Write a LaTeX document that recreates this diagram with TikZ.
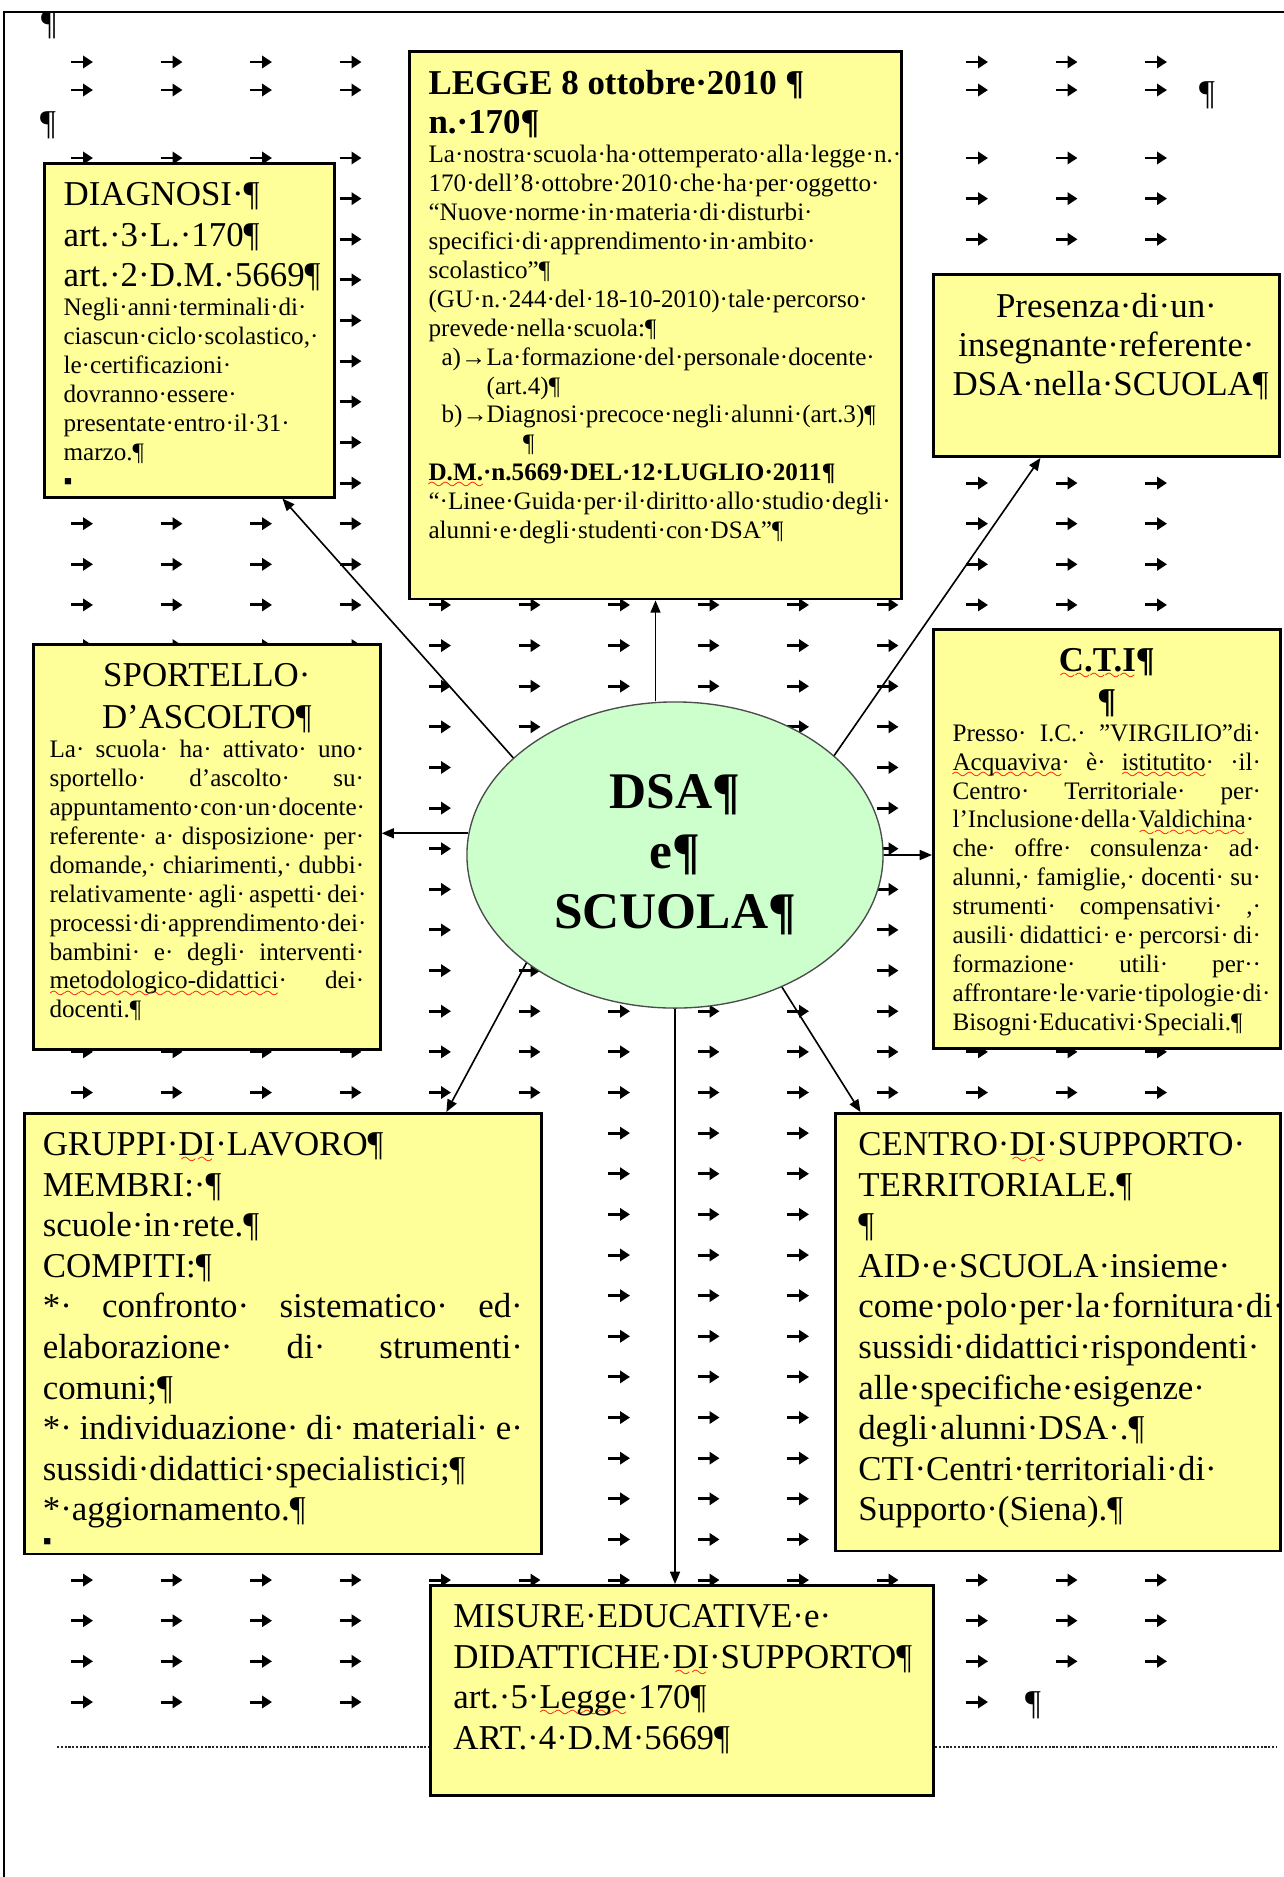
\documentclass[tikz,border=0pt]{standalone}
\usepackage{fontspec}
\setmainfont{Liberation Serif}
\usetikzlibrary{shapes.geometric, arrows.meta}

\definecolor{paneyellow}{HTML}{FFFF99}
\definecolor{dsagreen}{HTML}{CCFFCC}

\font\spellwave=lasy6
\newcommand\bigtxt{\fontsize{12.9pt}{15pt}\selectfont}
\newcommand\smalltxt{\fontsize{9.3pt}{10.7pt}\selectfont}
\newcommand\jline[1]{\makebox[\linewidth][s]{#1}}
\newcommand\spellerr[1]{\leavevmode\setbox0=\hbox{#1}\rlap{\color{red}\raisebox{-3pt}[0pt][0pt]{\hbox to\wd0{\xleaders\hbox{\spellwave\char58}\hfil}}}\box0}
\newcommand\boxtext[3]{\parbox[c][#2][t]{#1}{\hyphenpenalty=10000\exhyphenpenalty=10000\raggedright #3}}

\begin{document}
\begin{tikzpicture}[x=0.013cm, y=-0.013cm,
    panel/.style={draw=black, line width=1pt, fill=paneyellow, anchor=north west, inner xsep=0.25cm, inner ysep=0.25cm},
    tabmark/.style={line width=1.1pt, -{Triangle[length=0.13cm, width=0.16cm]}},
    conn/.style={line width=0.6pt, -{Triangle[length=0.16cm, width=0.13cm]}},
    pilcrow/.style={font=\bigtxt, inner sep=0pt}
  ]
  \useasboundingbox (0,0) rectangle (1284,1877);
  % page edge
  \draw[line width=1pt] (4,1877) -- (4,12) -- (1284,12);

  % tab marks of the page
  \foreach \yy in {62,90}
    \foreach \c in {0,1,2,3,10,11,12}
      \draw[tabmark] ({71+89.5*\c},\yy) -- ++(22,0);
  \foreach \r in {0,...,37}
    \foreach \c in {0,...,12}
      \draw[tabmark] ({71+89.5*\c},{158+40.63*\r}) -- ++(22,0);
  \foreach \c in {0,1,2,3,10}
    \draw[tabmark] ({71+89.5*\c},1702) -- ++(22,0);

  % paragraph marks and section line
  \node[pilcrow] (pm1) at (49,25) {¶};
  \node[pilcrow] (pm2) at (48,125) {¶};
  \node[pilcrow] (pm3) at (1207,95) {¶};
  \node[pilcrow] (pm4) at (1033,1705) {¶};
  \draw[line width=1pt, dash pattern=on 0.8pt off 0.6pt, black!85] (57,1747) -- (1276,1747);

  % boxes
  \node[panel] (legge) at (408,50) {\boxtext{5.9cm}{6.62cm}{%
    {\fontsize{12.9pt}{14.4pt}\selectfont\bfseries LEGGE 8 ottobre·2010~¶\\ n.·170¶\par}
    {\smalltxt La·nostra·scuola·ha·ottemperato·alla·legge·n.·\\
    170·dell'8·ottobre·2010·che·ha·per·oggetto·\\
    “Nuove·norme·in·materia·di·disturbi·\\
    specifici·di·apprendimento·in·ambito·\\
    scolastico”¶\\
    (GU·n.·244·del·18-10-2010)·tale·percorso·\\
    prevede·nella·scuola:¶\\
    \hspace*{4.8pt}\makebox[16.7pt][l]{a)→}La·formazione·del·personale·docente·\\
    \hspace*{21.5pt}(art.4)¶\\
    \hspace*{4.8pt}\makebox[16.7pt][l]{b)→}Diagnosi·precoce·negli·alunni·(art.3)¶\\
    \hspace*{35pt}¶\\
    \textbf{\spellerr{D.M.}·n.5669·DEL·12·LUGLIO·2011¶}\\
    “·Linee·Guida·per·il·diritto·allo·studio·degli·\\
    alunni·e·degli·studenti·con·DSA”¶\par}}};

  \node[panel] (diagnosi) at (43,162) {\boxtext{3.27cm}{3.84cm}{%
    {\bigtxt DIAGNOSI·¶\\ art.·3·L.·170¶\\ art.·2·D.M.·5669¶\par}
    {\smalltxt Negli·anni·terminali·di·\\
    ciascun·ciclo·scolastico,·\\
    le·certificazioni·\\
    dovranno·essere·\\
    presentate·entro·il·31·\\
    marzo.¶\\
    ▪\par}}};

  \node[panel] (presenza) at (932,273) {\boxtext{4.0cm}{1.87cm}{%
    \centering\fontsize{12.9pt}{14.4pt}\selectfont Presenza·di·un·\\ insegnante·referente·\\ DSA·nella·SCUOLA¶\par}};

  \node[panel, inner xsep=0.21cm] (sportello) at (32,643) {\boxtext{4.09cm}{4.77cm}{%
    {\centering\fontsize{12.9pt}{15.5pt}\selectfont SPORTELLO·\\ D'ASCOLTO¶\par}
    {\smalltxt\jline{La· scuola· ha· attivato· uno·}\\
    \jline{sportello· d'ascolto· su·}\\
    appuntamento·con·un·docente·\\
    \jline{referente· a· disposizione· per·}\\
    \jline{domande,· chiarimenti,· dubbi·}\\
    \jline{relativamente· agli· aspetti· dei·}\\
    processi·di·apprendimento·dei·\\
    \jline{bambini· e· degli· interventi·}\\
    \jline{\spellerr{metodologico-didattici}· dei·}\\
    docenti.¶\par}}};

  \node[panel] (cti) at (932,628) {\boxtext{4.01cm}{4.95cm}{%
    {\centering\bigtxt\bfseries \spellerr{C.T.I}¶\\ ¶\par}
    {\smalltxt\jline{Presso· I.C.· "VIRGILIO"di·}\\
    \jline{\spellerr{Acquaviva}· è· \spellerr{istitutito}· ·il·}\\
    \jline{Centro· Territoriale· per·}\\
    l'Inclusione·della·\spellerr{Valdichina}·\\
    \jline{che· offre· consulenza· ad·}\\
    \jline{alunni,· famiglie,· docenti· su·}\\
    \jline{strumenti· compensativi· ,·}\\
    \jline{ausili· didattici· e· percorsi· di·}\\
    \jline{formazione· utili· per··}\\
    affrontare·le·varie·tipologie·di·\\
    Bisogni·Educativi·Speciali.¶\par}}};

  \node[panel, inner xsep=0.24cm] (gruppi) at (23,1112) {\boxtext{6.24cm}{5.23cm}{%
    {\bigtxt GRUPPI·\spellerr{DI}·LAVORO¶\\
    MEMBRI:·¶\\
    scuole·in·rete.¶\\
    COMPITI:¶\\
    \jline{*· confronto· sistematico· ed·}\\
    \jline{elaborazione· di· strumenti·}\\
    comuni;¶\\
    \jline{*· individuazione· di· materiali· e·}\\
    sussidi·didattici·specialistici;¶\\
    {*}·aggiornamento.¶\par}
    {\smalltxt ▪\par}}};

  \node[panel, inner xsep=0.3cm] (centro) at (834,1112) {\boxtext{5.19cm}{5.19cm}{%
    \bigtxt CENTRO·\spellerr{DI}·SUPPORTO·\\
    TERRITORIALE.¶\\
    ¶\\
    AID·e·SCUOLA·insieme·\\
    come·polo·per·la·fornitura·di·\\
    sussidi·didattici·rispondenti·\\
    alle·specifiche·esigenze·\\
    degli·alunni·DSA·.¶\\
    CTI·Centri·territoriali·di·\\
    Supporto·(Siena).¶\par}};

  \node[panel, inner xsep=0.3cm] (misure) at (429,1584) {\boxtext{5.94cm}{2.23cm}{%
    \bigtxt MISURE·EDUCATIVE·e·\\
    DIDATTICHE·\spellerr{DI}·SUPPORTO¶\\
    art.·5·\spellerr{Legge}·170¶\\
    ART.·4·D.M·5669¶\par}};

  % centre
  \node[ellipse, draw=black!70, line width=0.5pt, fill=dsagreen, minimum width=5.41cm, minimum height=3.98cm,
    inner sep=0pt, align=center, font=\fontsize{19pt}{22.2pt}\selectfont\bfseries] (dsa) at (675,855) {DSA¶\\e¶\\SCUOLA¶};

  % connectors
  \draw[conn] (dsa.149) -- ([xshift=1.21cm]diagnosi.south);
  \draw[conn] (legge.south |- dsa.north) -- (legge.south);
  \draw[conn] (dsa.32) -- ([xshift=-0.858cm]presenza.south);
  \draw[conn] (dsa.174) -- (dsa.174 -| sportello.east);
  \draw[conn] (dsa.east) -- (dsa.east -| cti.west);
  \draw[conn] (dsa.216) -- ([xshift=2.126cm]gruppi.north);
  \draw[conn] (dsa.-51) -- ([xshift=-2.568cm]centro.north);
  \draw[conn] (dsa.south) -- (dsa.south |- misure.north);
\end{tikzpicture}
\end{document}
